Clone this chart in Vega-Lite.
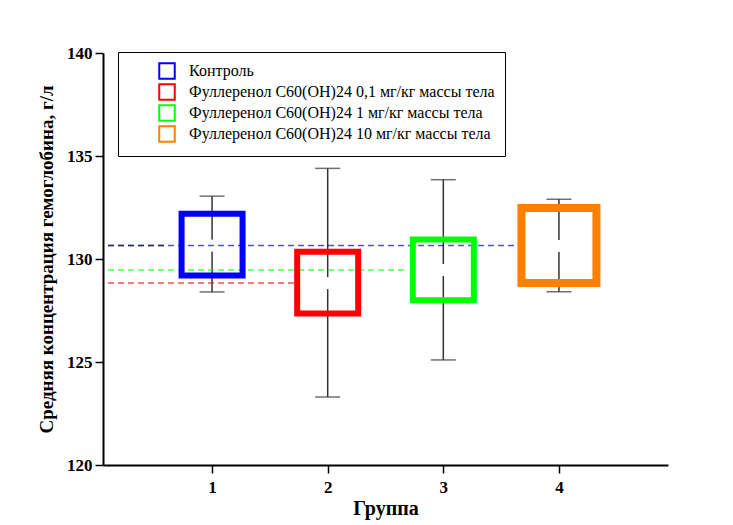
{
  "$schema": "https://vega.github.io/schema/vega-lite/v6.json",
  "autosize": {"type": "none"},
  "width": 565,
  "height": 412,
  "padding": {"left": 103, "top": 53, "right": 65, "bottom": 60},
  "background": "white",
  "config": {
    "view": {"stroke": null},
    "axis": {
      "domainColor": "black", "domainWidth": 2,
      "tickColor": "black", "tickWidth": 1.5, "tickSize": 8,
      "labelFont": "Liberation Serif", "labelFontWeight": "bold", "labelFontSize": 17, "labelColor": "black",
      "titleFont": "Liberation Serif", "titleFontWeight": "bold", "titleColor": "black",
      "grid": false
    }
  },
  "data": {
    "values": [
      {"group": 1, "label": "Контроль", "boxLow": 129.2, "boxHigh": 132.2, "wLow": 128.4, "wHigh": 133.05, "mean": 130.65, "refEnd": 3.62},
      {"group": 2, "label": "Фуллеренол C60(OH)24 0,1 мг/кг массы тела", "boxLow": 127.35, "boxHigh": 130.35, "wLow": 123.3, "wHigh": 134.4, "mean": 128.83, "refEnd": 1.71},
      {"group": 3, "label": "Фуллеренол C60(OH)24 1 мг/кг массы тела", "boxLow": 128.0, "boxHigh": 130.95, "wLow": 125.1, "wHigh": 133.85, "mean": 129.47, "refEnd": 2.69},
      {"group": 4, "label": "Фуллеренол C60(OH)24 10 мг/кг массы тела", "boxLow": 128.83, "boxHigh": 132.48, "wLow": 128.41, "wHigh": 132.9, "mean": 130.63, "refEnd": null}
    ]
  },
  "encoding": {
    "x": {"field": "group", "type": "quantitative",
      "scale": {"domain": [0.1, 4.9], "nice": false, "zero": false},
      "axis": {"values": [1, 2, 3, 4], "format": "d", "title": "Группа", "titleFontSize": 20, "labelPadding": 6, "titlePadding": 3}},
    "y": {"field": "mean", "type": "quantitative",
      "scale": {"domain": [120, 140], "nice": false, "zero": false},
      "axis": {"values": [120, 125, 130, 135, 140], "title": "Средняя концентрация гемоглобина, г/л", "titleFontSize": 19, "labelPadding": 3, "titlePadding": 10}}
  },
  "layer": [
    {
      "mark": {"type": "rule", "color": "#333333", "strokeWidth": 1.5},
      "encoding": {"y": {"field": "wLow", "type": "quantitative"}, "y2": {"field": "wHigh"}}
    },
    {
      "mark": {"type": "tick", "orient": "horizontal", "color": "#333333", "size": 25, "thickness": 1.5},
      "encoding": {"y": {"field": "wLow", "type": "quantitative"}}
    },
    {
      "mark": {"type": "tick", "orient": "horizontal", "color": "#333333", "size": 25, "thickness": 1.5},
      "encoding": {"y": {"field": "wHigh", "type": "quantitative"}}
    },
    {
      "mark": {"type": "tick", "orient": "vertical", "color": "white", "size": 12, "thickness": 4, "opacity": 1},
      "encoding": {"y": {"field": "mean", "type": "quantitative"}}
    },
    {
      "transform": [{"filter": "datum.refEnd != null"}],
      "mark": {"type": "rule", "strokeDash": [6, 4], "strokeWidth": 1.5, "opacity": 0.7},
      "encoding": {
        "x": {"datum": 0.1, "type": "quantitative"},
        "x2": {"field": "refEnd"},
        "color": {"field": "group", "type": "nominal", "legend": null,
          "scale": {"domain": [1, 2, 3], "range": ["#0000ff", "#ff0000", "#00ff00"]}}
      }
    },
    {
      "transform": [{"filter": "datum.group == 1"}],
      "mark": {"type": "rule", "strokeDash": [6, 4], "strokeWidth": 1.5, "color": "#222222", "opacity": 0.8},
      "encoding": {
        "x": {"datum": 0.1, "type": "quantitative"},
        "x2": {"datum": 0.6}
      }
    },
    {
      "transform": [{"filter": "datum.group != 4"}],
      "mark": {"type": "bar", "width": 61, "filled": false, "strokeWidth": 6},
      "encoding": {
        "y": {"field": "boxLow", "type": "quantitative"},
        "y2": {"field": "boxHigh"},
        "stroke": {"field": "label", "type": "nominal",
          "scale": {"domain": ["Контроль", "Фуллеренол C60(OH)24 0,1 мг/кг массы тела", "Фуллеренол C60(OH)24 1 мг/кг массы тела", "Фуллеренол C60(OH)24 10 мг/кг массы тела"],
                    "range": ["#0000ff", "#ff0000", "#00ff00", "#ff8000"]},
          "legend": {"orient": "none", "legendX": 15, "legendY": -1, "title": "\u00a0", "titleOrient": "left", "titlePadding": 30,
            "strokeColor": "black", "fillColor": "white", "padding": 10,
            "symbolType": "square", "symbolSize": 240, "symbolStrokeWidth": 2, "symbolFillColor": "white",
            "labelFont": "Liberation Serif", "labelFontSize": 16, "labelColor": "black", "labelLimit": 400, "labelOffset": 13, "rowPadding": -3}}
      }
    },
    {
      "transform": [{"filter": "datum.group == 4"}],
      "mark": {"type": "bar", "width": 75, "filled": false, "strokeWidth": 8},
      "encoding": {
        "y": {"field": "boxLow", "type": "quantitative"},
        "y2": {"field": "boxHigh"},
        "stroke": {"field": "label", "type": "nominal"}
      }
    }
  ]
}
